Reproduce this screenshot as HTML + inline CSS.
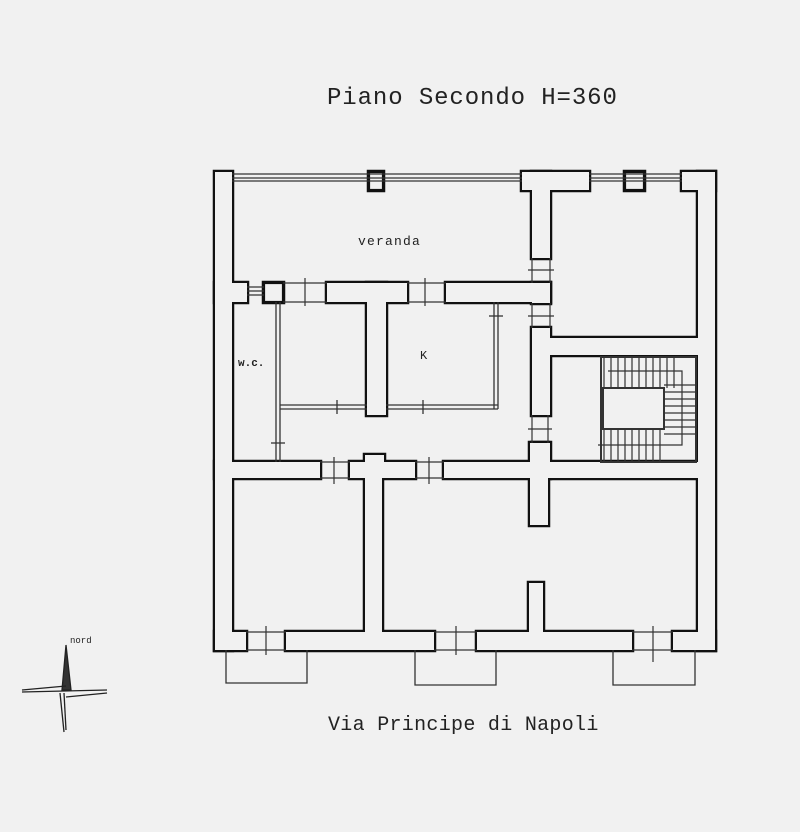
<!DOCTYPE html>
<html><head><meta charset="utf-8"><style>
html,body{margin:0;padding:0;background:#f1f1f1;}
svg{display:block}
text{font-family:"Liberation Mono",monospace;fill:#222}
</style></head><body>
<svg width="800" height="832" viewBox="0 0 800 832" xmlns="http://www.w3.org/2000/svg">
<rect width="800" height="832" fill="#f1f1f1"/>
<text x="327" y="104" font-size="24" letter-spacing="0.9">Piano Secondo H=360</text>
<text x="328" y="730" font-size="20" letter-spacing="0.3">Via Principe di Napoli</text>
<text x="358" y="245" font-size="13" letter-spacing="1.2">veranda</text>
<text x="238" y="366" font-size="11" font-weight="bold">w.c.</text>
<text x="420" y="359" font-size="12">K</text>
<text x="70" y="643" font-size="9" font-family="Liberation Sans,sans-serif">nord</text>

<g id="w">
<rect x="215" y="172" width="17" height="478"/>
<rect x="698" y="172" width="17" height="478"/>
<rect x="215" y="632" width="31" height="18"/>
<rect x="286" y="632" width="148" height="18"/>
<rect x="477" y="632" width="155" height="18"/>
<rect x="673" y="632" width="42" height="18"/>
<rect x="369" y="172" width="14" height="18"/>
<rect x="522" y="172" width="67" height="18"/>
<rect x="532" y="172" width="18" height="86"/>
<rect x="625" y="172" width="19" height="18"/>
<rect x="682" y="172" width="33" height="18"/>
<rect x="215" y="283" width="32" height="19"/>
<rect x="264" y="283" width="19" height="19"/>
<rect x="327" y="283" width="80" height="19"/>
<rect x="446" y="283" width="104" height="19"/>
<rect x="532" y="283" width="18" height="20"/>
<rect x="367" y="283" width="19" height="132"/>
<rect x="532" y="328" width="18" height="87"/>
<rect x="532" y="443" width="18" height="35"/>
<rect x="550" y="338" width="148" height="17"/>
<rect x="215" y="462" width="105" height="16"/>
<rect x="350" y="462" width="65" height="16"/>
<rect x="365" y="455" width="19" height="10"/>
<rect x="444" y="462" width="254" height="16"/>
<rect x="530" y="443" width="18" height="82"/>
<rect x="365" y="478" width="17" height="154"/>
<rect x="529" y="583" width="14" height="49"/>
</g>
<use href="#w" stroke="#111" stroke-width="4.5" fill="#111"/>
<g fill="#f1f1f1" stroke="none">
<rect x="215" y="172" width="17" height="478"/>
<rect x="698" y="172" width="17" height="478"/>
<rect x="215" y="632" width="31" height="18"/>
<rect x="286" y="632" width="148" height="18"/>
<rect x="477" y="632" width="155" height="18"/>
<rect x="673" y="632" width="42" height="18"/>
<rect x="369" y="172" width="14" height="18"/>
<rect x="522" y="172" width="67" height="18"/>
<rect x="532" y="172" width="18" height="86"/>
<rect x="625" y="172" width="19" height="18"/>
<rect x="682" y="172" width="33" height="18"/>
<rect x="215" y="283" width="32" height="19"/>
<rect x="264" y="283" width="19" height="19"/>
<rect x="327" y="283" width="80" height="19"/>
<rect x="446" y="283" width="104" height="19"/>
<rect x="532" y="283" width="18" height="20"/>
<rect x="367" y="283" width="19" height="132"/>
<rect x="532" y="328" width="18" height="87"/>
<rect x="532" y="443" width="18" height="35"/>
<rect x="550" y="338" width="148" height="17"/>
<rect x="215" y="462" width="105" height="16"/>
<rect x="350" y="462" width="65" height="16"/>
<rect x="365" y="455" width="19" height="10"/>
<rect x="444" y="462" width="254" height="16"/>
<rect x="530" y="443" width="18" height="82"/>
<rect x="365" y="478" width="17" height="154"/>
<rect x="529" y="583" width="14" height="49"/>
</g>
<g fill="none" stroke="#111" stroke-width="2.2">
<rect x="264" y="283" width="19" height="19"/>
<rect x="369" y="172" width="14" height="18"/>
<rect x="625" y="172" width="19" height="18"/>
</g>
<g stroke="#333" stroke-width="1.2">
<line x1="232" y1="174" x2="522" y2="174"/><line x1="232" y1="178" x2="522" y2="178"/><line x1="232" y1="181" x2="522" y2="181"/>
<line x1="589" y1="174" x2="682" y2="174"/><line x1="589" y1="178" x2="682" y2="178"/><line x1="589" y1="181" x2="682" y2="181"/>
<line x1="247" y1="287" x2="264" y2="287"/><line x1="247" y1="291" x2="264" y2="291"/><line x1="247" y1="295" x2="264" y2="295"/>
</g>
<g stroke="#333" stroke-width="1.2">
<line x1="283" y1="283" x2="327" y2="283"/><line x1="283" y1="302" x2="327" y2="302"/><line x1="305" y1="278" x2="305" y2="306"/>
<line x1="407" y1="283" x2="446" y2="283"/><line x1="407" y1="302" x2="446" y2="302"/><line x1="425" y1="278" x2="425" y2="306"/>
<line x1="532" y1="258" x2="532" y2="283"/><line x1="550" y1="258" x2="550" y2="283"/><line x1="528" y1="270" x2="554" y2="270"/>
<line x1="532" y1="303" x2="532" y2="328"/><line x1="550" y1="303" x2="550" y2="328"/><line x1="528" y1="316" x2="554" y2="316"/>
<line x1="532" y1="415" x2="532" y2="443"/><line x1="548" y1="415" x2="548" y2="443"/><line x1="528" y1="429" x2="552" y2="429"/>
<line x1="320" y1="462" x2="350" y2="462"/><line x1="320" y1="478" x2="350" y2="478"/><line x1="334" y1="457" x2="334" y2="484"/>
<line x1="415" y1="462" x2="444" y2="462"/><line x1="415" y1="478" x2="444" y2="478"/><line x1="429" y1="457" x2="429" y2="484"/>
<line x1="246" y1="632" x2="286" y2="632"/><line x1="246" y1="650" x2="286" y2="650"/><line x1="266" y1="626" x2="266" y2="655"/>
<line x1="434" y1="632" x2="477" y2="632"/><line x1="434" y1="650" x2="477" y2="650"/><line x1="456" y1="626" x2="456" y2="655"/>
<line x1="632" y1="632" x2="673" y2="632"/><line x1="632" y1="650" x2="673" y2="650"/><line x1="653" y1="626" x2="653" y2="662"/>
</g>
<g stroke="#333" stroke-width="1.3" fill="none">
<line x1="276" y1="302" x2="276" y2="462"/><line x1="280" y1="302" x2="280" y2="462"/>
<line x1="280" y1="405" x2="367" y2="405"/><line x1="280" y1="409" x2="367" y2="409"/>
<line x1="386" y1="405" x2="498" y2="405"/><line x1="386" y1="409" x2="498" y2="409"/>
<line x1="494" y1="302" x2="494" y2="409"/><line x1="498" y1="302" x2="498" y2="409"/>
<line x1="337" y1="400" x2="337" y2="414"/><line x1="423" y1="400" x2="423" y2="414"/>
<line x1="271" y1="443" x2="285" y2="443"/><line x1="489" y1="316" x2="503" y2="316"/>
<polyline points="226,650 226,683 307,683 307,650"/>
<polyline points="415,650 415,685 496,685 496,650"/>
<polyline points="613,650 613,685 695,685 695,650"/>
</g>
<g stroke="#333" stroke-width="1.2" fill="none">
<rect x="601" y="357" width="95" height="105" stroke-width="2"/>
<rect x="603" y="388" width="61" height="41" stroke-width="2"/>
<polyline points="608,371 682,371 682,445 598,445"/>
<path d="M604 357V388M611 357V388M618 357V388M625 357V388M632 357V388M639 357V388M646 357V388M653 357V388M660 357V388M667 357V388M674 357V388"/>
<path d="M664 385H696M664 392H696M664 399H696M664 406H696M664 413H696M664 420H696M664 427H696M664 434H696"/>
<path d="M604 429V462M611 429V462M618 429V462M625 429V462M632 429V462M639 429V462M646 429V462M653 429V462M660 429V462"/>
</g>
<g stroke="#222" fill="none" stroke-width="1.3">
<polygon points="66,645 71,690 62,690" fill="#333"/>
<line x1="22" y1="692" x2="107" y2="690"/>
<line x1="22" y1="690" x2="66" y2="686"/>
<line x1="66" y1="697" x2="107" y2="693"/>
<line x1="60" y1="693" x2="64" y2="732"/>
<line x1="64" y1="693" x2="66" y2="730"/>
</g>
</svg>
</body></html>
